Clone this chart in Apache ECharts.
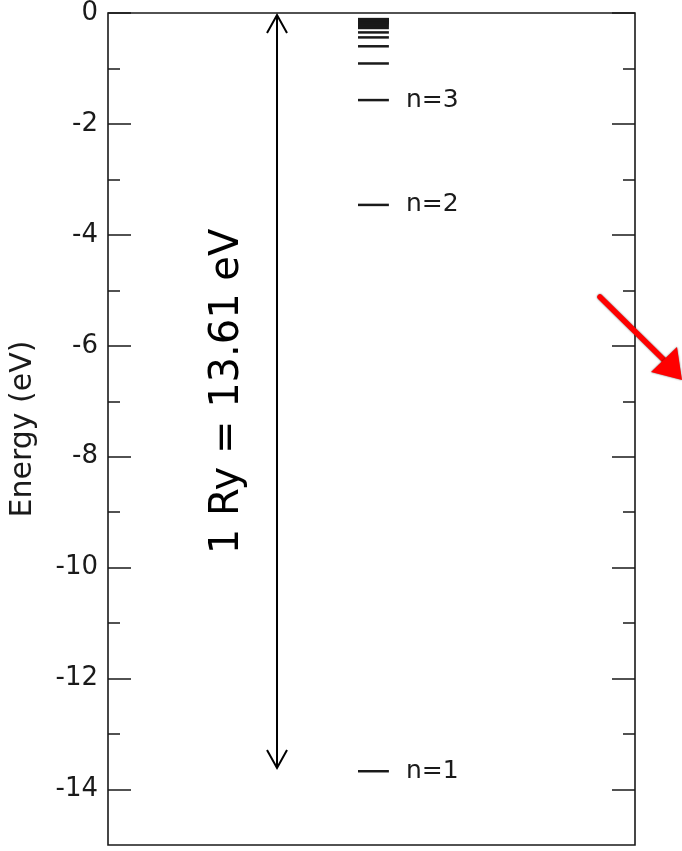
<!DOCTYPE html>
<html><head><meta charset="utf-8">
<script src="https://cdn.jsdelivr.net/npm/echarts@6/dist/echarts.min.js"></script>
<style>html,body{margin:0;padding:0;background:#fff}#c{width:682px;height:851px}</style>
</head><body><div id="c"></div>
<script>
// ---- data ----
const levelEnergies = [-13.67, -3.46, -1.57, -0.91, -0.60, -0.44, -0.35, -0.27, -0.23, -0.20, -0.18, -0.165, -0.15, -0.14, -0.13, -0.125, -0.12, -0.115, -0.11];
const levelLabels = ['n=1', 'n=2', 'n=3'];
const rydbergSpan = [0, -13.61];
const rydbergText = '1 Ry = 13.61 eV';
const majorTicks = [0, -2, -4, -6, -8, -10, -12, -14];
const minorTicks = [-1, -3, -5, -7, -9, -11, -13];
const yName = 'Energy (eV)';

// ---- layout (x axis is a hidden 0..1 frame coordinate) ----
const LEVEL_X0 = 0.4744, LEVEL_X1 = 0.533, LABEL_X = 0.5655, ARROW_X = 0.3207;
const FONT = '"DejaVu Sans", sans-serif';
const INK = '#1a1a1a';

const chart = echarts.init(document.getElementById('c'));

function yAx(pos, ticks, len, opts) {
  return Object.assign({
    type: 'value', position: pos, min: -15, max: 0, interval: 1,
    axisLine: { show: false },
    splitLine: { show: false },
    axisTick: { show: true, inside: true, length: len, customValues: ticks, lineStyle: { color: INK, width: 1.5 } },
    axisLabel: { show: false }
  }, opts || {});
}

const option = {
  animation: false,
  backgroundColor: '#fff',
  grid: { left: 108, right: 47, top: 11, bottom: 6, show: true, borderColor: INK, borderWidth: 1.6, backgroundColor: 'transparent' },
  xAxis: { type: 'value', min: 0, max: 1, show: false },
  yAxis: [
    yAx('left', majorTicks, 23, {
      name: yName, nameLocation: 'middle', nameGap: 70,
      nameTextStyle: { fontFamily: FONT, fontSize: 30, color: INK },
      axisLabel: { show: true, customValues: majorTicks, margin: 10, fontFamily: FONT, fontSize: 26, color: INK }
    }),
    yAx('left', minorTicks, 12),
    yAx('right', majorTicks, 23),
    yAx('right', minorTicks, 12)
  ],
  series: [
    {
      type: 'custom', xAxisIndex: 0, yAxisIndex: 0,
      data: levelEnergies.map(e => [e]),
      encode: { y: 0 },
      renderItem(params, api) {
        const e = api.value(0);
        const p1 = api.coord([LEVEL_X0, e]);
        const p2 = api.coord([LEVEL_X1, e]);
        const children = [{
          type: 'line',
          shape: { x1: p1[0], y1: p1[1], x2: p2[0], y2: p2[1] },
          style: { stroke: INK, lineWidth: 2.5 }
        }];
        const i = params.dataIndex;
        if (i < levelLabels.length) {
          const p3 = api.coord([LABEL_X, e]);
          children.push({
            type: 'text', x: p3[0], y: p3[1],
            style: { text: levelLabels[i], font: '25px ' + FONT, fill: INK, align: 'left', verticalAlign: 'middle' }
          });
        }
        return { type: 'group', children };
      }
    },
    {
      type: 'custom', xAxisIndex: 0, yAxisIndex: 0,
      data: [rydbergSpan],
      encode: { y: [0, 1] },
      renderItem(params, api) {
        const top = api.coord([ARROW_X, api.value(0)]);
        const bot = api.coord([ARROW_X, api.value(1)]);
        const x = top[0], y0 = top[1] + 2, y1 = bot[1];
        const st = { stroke: '#000', lineWidth: 2, fill: 'none' };
        return {
          type: 'group', children: [
            { type: 'line', shape: { x1: x, y1: y0, x2: x, y2: y1 }, style: st },
            { type: 'polyline', shape: { points: [[x - 10, y0 + 18], [x, y0], [x + 10, y0 + 18]] }, style: st },
            { type: 'polyline', shape: { points: [[x - 10, y1 - 18], [x, y1], [x + 10, y1 - 18]] }, style: st },
            {
              type: 'text', x: x - 49, y: (y0 + y1) / 2, rotation: Math.PI / 2,
              style: { text: rydbergText, font: '40px ' + FONT, fill: '#000', align: 'center', verticalAlign: 'middle' }
            }
          ]
        };
      }
    }
  ],
  graphic: [
    {
      type: 'group', silent: true, children: [
        { type: 'line', shape: { x1: 600, y1: 297, x2: 664, y2: 360 },
          style: { stroke: '#ff0000', lineWidth: 5.5, lineCap: 'round', shadowBlur: 2, shadowColor: 'rgba(0,0,0,0.6)' } },
        { type: 'polygon', shape: { points: [[682, 380], [651, 372], [677, 347]] },
          style: { fill: '#ff0000', shadowBlur: 2, shadowColor: 'rgba(0,0,0,0.6)' } }
      ]
    }
  ]
};
chart.setOption(option);
</script>
</body></html>
